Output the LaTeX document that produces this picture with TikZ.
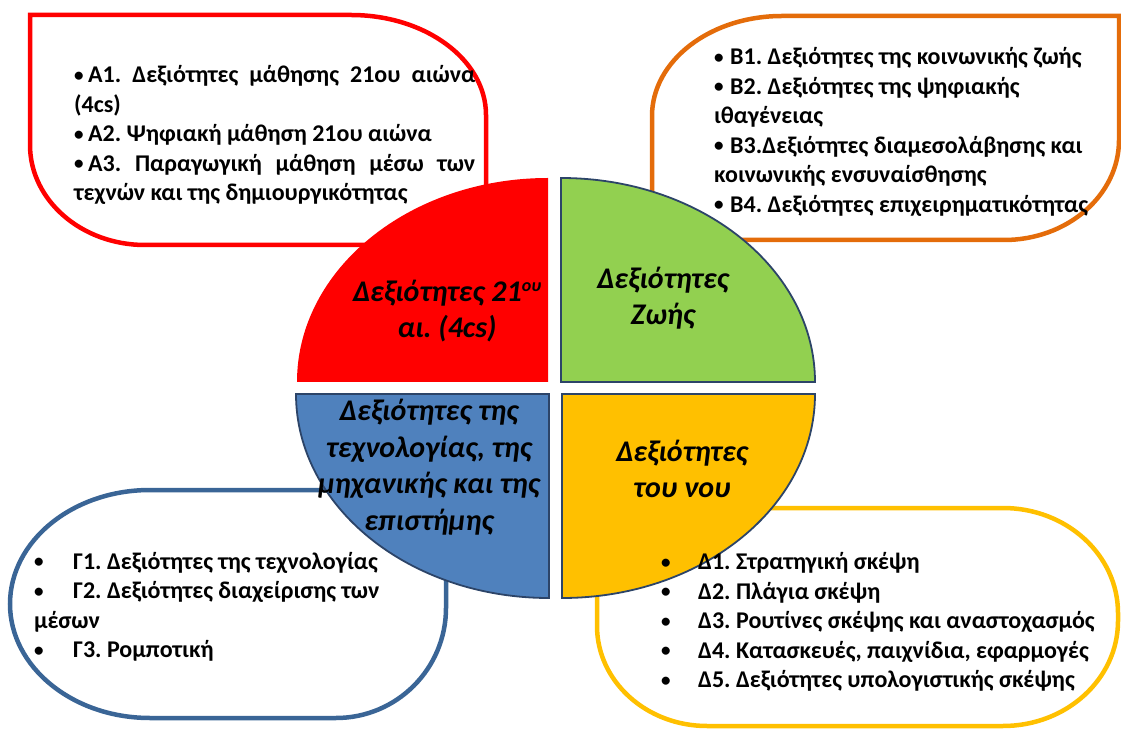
\documentclass[tikz,border=0pt]{standalone}
\usepackage{fontspec}
\setmainfont{Carlito}
\frenchspacing
\definecolor{cred}{HTML}{FF0000}
\definecolor{corange}{HTML}{E46C0A}
\definecolor{cboxblue}{HTML}{3A6596}
\definecolor{cyellow}{HTML}{FFC000}
\definecolor{cgreen}{HTML}{92D050}
\definecolor{cqblue}{HTML}{4F81BD}
\definecolor{cqline}{HTML}{2C4468}
\newcommand{\bul}[1]{\makebox[#1][l]{\raisebox{1.5pt}{\fontsize{19}{19}\selectfont •}}}
\begin{document}
\begin{tikzpicture}[x=1pt,y=1pt,
  box/.style={line width=4.5pt, fill=white},
  quarter/.style={draw=cqline, line width=1.8pt},
  itemtext/.style={anchor=base west, inner sep=0pt, font=\bfseries\fontsize{24}{29.5}\selectfont},
  qtext/.style={align=center, inner sep=0pt, font=\bfseries\itshape\fontsize{30}{36.6}\selectfont}]
\useasboundingbox (0,0) rectangle (1121,729);
% boxes
\draw[box, draw=cred] (30,714) -- (351,714) arc[start angle=90,end angle=0,x radius=135,y radius=100]
  -- (486,484) -- (145,484) arc[start angle=270,end angle=180,x radius=115,y radius=100] -- cycle;
\draw[box, draw=corange] (652,489) -- (652,613) arc[start angle=180,end angle=90,x radius=130,y radius=100]
  -- (1119,713) -- (1119,589) arc[start angle=0,end angle=-90,x radius=115,y radius=100] -- cycle;
\draw[box, draw=cboxblue] (446,239) -- (150,239) arc[start angle=90,end angle=180,x radius=140,y radius=114]
  arc[start angle=180,end angle=270,x radius=140,y radius=114]
  -- (336,11) arc[start angle=270,end angle=360,x radius=110,y radius=110] -- cycle;
\draw[box, draw=cyellow] (597,221) -- (1003,221) arc[start angle=90,end angle=0,x radius=115,y radius=105]
  -- (1118,108) arc[start angle=0,end angle=-90,x radius=115,y radius=105]
  -- (707,3) arc[start angle=270,end angle=180,x radius=110,y radius=100] -- cycle;
% quarters
\fill[cred] (548,347) -- (297,347) arc[start angle=180,end angle=90,x radius=251,y radius=204] -- cycle;
\filldraw[quarter, fill=cgreen] (561,347) -- (561,551) arc[start angle=90,end angle=0,x radius=254,y radius=204] -- cycle;
\filldraw[quarter, fill=cqblue] (549,335) -- (296,335) arc[start angle=180,end angle=270,x radius=253,y radius=204] -- cycle;
\filldraw[quarter, fill=cyellow] (562,335) -- (815,335) arc[start angle=0,end angle=-90,x radius=253,y radius=204] -- cycle;
% quarter texts
\node[qtext] (qa) at (447,418) {Δεξιότητες 21{\raisebox{10pt}{\fontsize{18}{18}\selectfont ου}}\\αι. (4cs)};
\node[qtext] (qb) at (663,431) {Δεξιότητες\\Ζωής};
\node[qtext] (qc) at (429,262) {Δεξιότητες της\\τεχνολογίας, της\\μηχανικής και της\\επιστήμης};
\node[qtext] (qd) at (682,260) {Δεξιότητες\\του νου};
% box texts
\node[itemtext] (ta) at (74,646) {\begin{tabular}[t]{@{}l@{}}
\makebox[401pt][s]{\bul{14pt}A1. Δεξιότητες μάθησης 21ου αιώνα}\\
(4cs)\\
\bul{14pt}A2. Ψηφιακή μάθηση 21ου αιώνα\\
\makebox[401pt][s]{\bul{14pt}A3. Παραγωγική μάθηση μέσω των}\\
τεχνών και της δημιουργικότητας
\end{tabular}};
\node[itemtext] (tb) at (714,664) {\begin{tabular}[t]{@{}l@{}}
\bul{16pt}B1. Δεξιότητες της κοινωνικής ζωής\\
\bul{16pt}B2. Δεξιότητες της ψηφιακής\\
ιθαγένειας\\
\bul{16pt}B3.Δεξιότητες διαμεσολάβησης και\\
κοινωνικής ενσυναίσθησης\\
\bul{16pt}B4. Δεξιότητες επιχειρηματικότητας
\end{tabular}};
\node[itemtext] (tc) at (34,160) {\begin{tabular}[t]{@{}l@{}}
\bul{39pt}Γ1. Δεξιότητες της τεχνολογίας\\
\bul{39pt}Γ2. Δεξιότητες διαχείρισης των\\
μέσων\\
\bul{39pt}Γ3. Ρομποτική
\end{tabular}};
\node[itemtext] (td) at (661,159.5) {\begin{tabular}[t]{@{}l@{}}
\bul{37pt}Δ1. Στρατηγική σκέψη\\
\bul{37pt}Δ2. Πλάγια σκέψη\\
\bul{37pt}Δ3. Ρουτίνες σκέψης και αναστοχασμός\\
\bul{37pt}Δ4. Κατασκευές, παιχνίδια, εφαρμογές\\
\bul{37pt}Δ5. Δεξιότητες υπολογιστικής σκέψης
\end{tabular}};
\end{tikzpicture}
\end{document}
